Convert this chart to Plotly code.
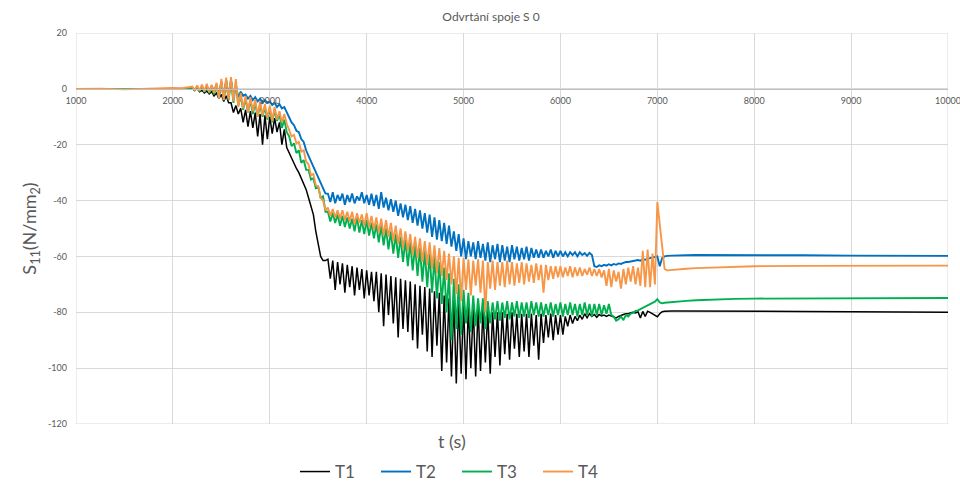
import plotly.graph_objects as go

# ---------------- data ----------------
time_s = [
    1000, 1250, 1500, 1750, 2000, 2100,
    2200, 2225, 2250, 2275, 2300, 2325, 2350, 2375,
    2400, 2425, 2450, 2475, 2500, 2525, 2550, 2575,
    2600, 2625, 2650, 2675, 2700, 2725, 2750, 2775,
    2800, 2825, 2850, 2875, 2900, 2925, 2950, 2975,
    3000, 3025, 3050, 3075, 3100, 3125, 3150, 3175,
    3200, 3225, 3250, 3275, 3300, 3325, 3350, 3375,
    3400, 3425, 3450, 3475, 3500, 3525, 3550, 3575,
    3600, 3625, 3650, 3675, 3700, 3725, 3750, 3775,
    3800, 3825, 3850, 3875, 3900, 3925, 3950, 3975,
    4000, 4025, 4050, 4075, 4100, 4125, 4150, 4175,
    4200, 4225, 4250, 4275, 4300, 4325, 4350, 4375,
    4400, 4425, 4450, 4475, 4500, 4525, 4550, 4575,
    4600, 4625, 4650, 4675, 4700, 4725, 4750, 4775,
    4800, 4825, 4850, 4875, 4900, 4925, 4950, 4975,
    5000, 5025, 5050, 5075, 5100, 5125, 5150, 5175,
    5200, 5225, 5250, 5275, 5300, 5325, 5350, 5375,
    5400, 5425, 5450, 5475, 5500, 5525, 5550, 5575,
    5600, 5625, 5650, 5675, 5700, 5725, 5750, 5775,
    5800, 5825, 5850, 5875, 5900, 5925, 5950, 5975,
    6000, 6025, 6050, 6075, 6100, 6125, 6150, 6175,
    6200, 6225, 6250, 6275, 6300, 6325, 6350, 6375,
    6400, 6425, 6450, 6475, 6500, 6525, 6550, 6575,
    6600, 6625, 6650, 6675, 6700, 6725, 6750, 6775,
    6800, 6825, 6850, 6875, 6900, 6925, 6950, 6975,
    7000, 7025, 7050, 7075, 7100,
    7150, 7200, 7300, 7400, 7600, 7800, 8000, 8500, 9000, 9500, 10000,
]

t1_values = [
    0, 0, 0, 0, 0, 0,
    0, -0.5, 0.2, -1.0, -0.5, -1.5, -0.8, -1.8,
    -1.0, -2.5, -1.5, -3.5, -2.0, -4.5, -2.5, -5.0,
    -5.0, -8.5, -6.0, -9.0, -7.0, -12.0, -7.5, -13.5,
    -8.0, -14.0, -8.5, -17.0, -9.0, -20.0, -9.5, -18.0,
    -10.0, -16.0, -10.5, -15.5, -12.0, -20.0, -14.5, -21.0,
    -23.0, -25.0, -26.5, -28.5, -30.0, -32.0, -34.0, -36.0,
    -39.0, -42.5, -45.0, -51.0, -56.0, -60.0, -61.5, -61.5,
    -61.0, -68.0, -61.5, -72.0, -62.0, -70.0, -62.5, -73.0,
    -63.0, -71.0, -63.5, -74.0, -64.0, -72.0, -64.5, -75.0,
    -65.0, -74.0, -65.5, -76.0, -65.5, -80.0, -66.0, -85.0,
    -66.5, -81.0, -67.0, -84.0, -67.5, -89.0, -68.0, -86.0,
    -68.5, -87.0, -69.0, -90.0, -70.0, -93.0, -70.5, -88.0,
    -71.0, -94.0, -71.5, -96.0, -72.5, -92.0, -73.0, -101.0,
    -74.0, -98.0, -75.0, -103.0, -76.0, -105.5, -76.5, -102.0,
    -77.0, -104.0, -77.5, -100.0, -78.0, -103.0, -78.0, -101.0,
    -79.0, -98.0, -79.5, -102.0, -80.0, -96.0, -80.0, -99.0,
    -80.0, -95.0, -80.5, -97.0, -80.0, -93.0, -80.5, -96.0,
    -80.5, -94.0, -80.5, -96.0, -80.5, -92.0, -81.0, -97.0,
    -80.5, -91.0, -81.0, -89.0, -80.5, -90.0, -81.0, -88.0,
    -81.0, -88.0, -81.5, -85.0, -81.0, -84.0, -81.5, -83.0,
    -81.0, -82.5, -80.5, -82.0, -80.5, -81.5, -80.8, -81.8,
    -80.8, -81.3, -81.0, -81.5, -81.0, -81.3, -81.5, -82.0,
    -81.5, -81.0, -80.8, -80.5, -80.5, -80.2, -80.0, -80.2,
    -79.8, -82.0, -79.7, -81.5, -79.6, -80.0, -80.5, -81.0,
    -81.6, -80.5, -79.8, -79.6, -79.5,
    -79.5, -79.5, -79.5, -79.6, -79.6, -79.6, -79.7, -79.7, -79.8, -79.9, -80.0,
]

t2_values = [
    0, 0, 0, 0, 0, 0,
    0.3, -0.3, 0.5, -0.5, 0.8, -0.6, 1.0, -0.8,
    1.0, -1.0, 1.5, -2.5, 2.5, -3.0, 3.0, -2.5,
    3.0, -2.5, 1.0, -3.0, -1.0, -2.5, -2.0, -3.5,
    -2.5, -4.0, -3.0, -4.5, -3.5, -5.0, -4.0, -5.0,
    -4.5, -5.8, -5.0, -6.5, -5.5, -7.0, -6.5, -8.5,
    -10.5, -12.0, -13.0, -15.0, -15.5, -18.0, -19.0, -22.0,
    -24.0, -26.0, -27.5, -29.5, -31.5, -34.0, -36.0, -37.5,
    -37.5, -40.5, -37.0, -41.0, -38.0, -40.0, -37.5, -41.5,
    -38.0, -40.5, -37.5, -41.0, -38.5, -40.0, -37.0, -41.0,
    -38.0, -41.5, -37.5, -42.0, -38.0, -43.0, -37.0, -42.5,
    -39.0, -43.5, -39.5, -44.0, -40.0, -45.5, -41.0, -46.0,
    -41.5, -47.0, -42.0, -48.0, -43.0, -49.0, -43.5, -50.0,
    -44.5, -51.5, -45.0, -53.0, -46.0, -54.0, -47.0, -54.5,
    -48.0, -55.5, -49.0, -56.5, -51.0, -58.0, -52.0, -60.0,
    -53.5, -61.0, -54.5, -60.0, -55.0, -61.0, -54.5, -60.5,
    -55.5, -61.5, -55.0, -62.0, -56.0, -61.0, -55.5, -62.0,
    -56.0, -61.5, -56.5, -62.0, -56.0, -61.0, -56.5, -61.5,
    -57.0, -61.0, -56.5, -61.5, -57.0, -60.5, -57.5, -60.5,
    -57.5, -60.5, -58.0, -60.0, -57.5, -60.5, -58.0, -60.0,
    -58.0, -60.0, -58.5, -60.0, -58.5, -59.5, -58.5, -60.0,
    -58.5, -59.5, -58.8, -59.8, -58.7, -59.5, -63.5, -63.8,
    -63.2, -63.5, -63.0, -63.3, -62.8, -63.2, -62.7, -63.0,
    -62.5, -62.7, -62.3, -62.0, -62.0, -61.8, -61.6, -61.5,
    -61.3, -61.5, -61.0, -61.2, -60.8, -60.6, -60.4, -60.2,
    -60.0, -63.5, -60.5, -60.0, -59.8,
    -59.7, -59.6, -59.6, -59.5, -59.5, -59.4, -59.5, -59.6, -59.7, -59.8, -59.8,
]

t3_values = [
    0, 0, 0, 0, 0, 0,
    0.3, -0.5, 0.6, -0.8, 0.8, -1.2, 0.8, -1.5,
    0.5, -2.0, 1.5, -3.5, 2.5, -4.0, 3.0, -4.0,
    3.0, -5.0, 2.0, -6.0, -2.5, -7.5, -3.5, -8.5,
    -4.0, -9.0, -5.0, -10.0, -5.5, -10.0, -6.5, -11.0,
    -7.0, -12.0, -7.5, -11.5, -9.0, -14.0, -11.0, -15.5,
    -17.0, -20.5, -19.5, -23.0, -22.0, -26.5, -25.5, -29.0,
    -29.0, -32.5, -32.0, -35.5, -35.0, -39.0, -38.5, -44.0,
    -44.0, -47.5, -44.5, -48.0, -45.0, -49.0, -45.5, -49.5,
    -46.0, -50.0, -46.5, -51.0, -46.0, -51.5, -47.0, -52.0,
    -47.0, -52.5, -48.0, -53.5, -48.5, -55.0, -49.0, -56.0,
    -50.0, -57.5, -51.0, -59.0, -52.0, -60.5, -53.0, -62.0,
    -54.0, -63.5, -55.0, -65.0, -56.0, -67.0, -57.0, -69.0,
    -58.0, -71.0, -59.0, -73.0, -60.0, -75.0, -62.0, -77.0,
    -64.0, -80.0, -66.0, -90.0, -68.0, -86.0, -70.0, -88.0,
    -72.0, -84.0, -73.0, -87.0, -74.0, -85.0, -75.0, -84.0,
    -75.0, -86.0, -76.0, -84.0, -76.5, -82.5, -76.0, -83.0,
    -76.5, -82.0, -76.0, -82.5, -76.5, -81.5, -76.0, -82.0,
    -76.5, -81.5, -76.5, -82.0, -76.0, -81.0, -76.5, -81.5,
    -76.5, -81.5, -77.0, -81.0, -76.5, -81.5, -77.0, -81.0,
    -76.5, -81.5, -77.0, -81.0, -76.5, -81.0, -77.0, -81.5,
    -77.0, -81.0, -76.5, -81.0, -77.0, -81.5, -77.0, -81.0,
    -77.0, -81.0, -77.5, -80.5, -77.0, -81.0, -81.5, -83.0,
    -82.5, -81.5, -82.8, -81.0, -81.5, -80.5, -80.2, -79.5,
    -79.3, -78.8, -78.3, -77.8, -77.5, -77.0, -76.6, -76.2,
    -75.3, -76.5, -76.8, -76.6, -76.5,
    -76.3, -76.1, -75.9, -75.7, -75.4, -75.2, -75.1, -75.0, -74.9, -74.9, -74.9,
]

t4_values = [
    0, 0.1, -0.2, 0.1, 0.3, 0.2,
    0.8, -0.4, 1.2, -0.6, 1.5, -1.0, 1.8, -1.2,
    1.5, -1.5, 2.2, -3.5, 3.6, -4.0, 4.0, -3.8,
    4.2, -4.5, 3.5, -6.5, -1.5, -7.0, -2.5, -8.5,
    -3.0, -8.0, -3.8, -10.0, -4.5, -9.5, -5.5, -10.5,
    -6.0, -11.5, -6.5, -11.0, -8.0, -12.0, -9.0, -12.5,
    -14.5, -17.0, -16.5, -19.5, -19.0, -22.5, -22.0, -26.0,
    -27.0, -31.0, -30.5, -34.5, -35.0, -39.0, -40.0, -43.5,
    -42.5, -45.5, -43.0, -46.0, -43.5, -46.5, -43.5, -47.0,
    -44.0, -47.5, -44.0, -48.5, -44.5, -48.0, -45.0, -49.0,
    -44.5, -49.5, -45.5, -50.5, -46.0, -51.5, -46.5, -52.5,
    -47.0, -53.0, -48.0, -54.5, -49.0, -55.5, -50.0, -57.0,
    -51.0, -58.0, -52.0, -59.5, -53.0, -60.5, -53.5, -62.0,
    -54.5, -63.0, -55.0, -64.5, -56.0, -66.0, -57.0, -67.0,
    -58.0, -68.5, -59.0, -70.0, -60.0, -73.5, -60.5, -76.0,
    -60.5, -72.0, -61.0, -74.0, -61.5, -70.5, -61.0, -73.0,
    -61.5, -80.0, -62.0, -71.5, -61.5, -72.0, -62.0, -70.5,
    -62.0, -71.0, -61.5, -70.0, -62.0, -70.5, -62.5, -69.5,
    -62.0, -70.0, -62.5, -69.0, -63.0, -69.5, -62.5, -68.5,
    -63.0, -73.0, -63.0, -68.5, -63.5, -68.0, -63.5, -67.5,
    -63.5, -67.5, -64.0, -67.0, -63.5, -67.5, -64.0, -67.0,
    -64.0, -67.0, -64.5, -66.5, -64.0, -67.0, -64.5, -67.0,
    -64.5, -67.5, -65.0, -70.5, -64.5, -71.0, -65.0, -69.0,
    -65.5, -71.5, -64.5, -70.0, -64.0, -69.0, -63.5, -70.0,
    -64.0, -70.5, -58.0, -71.0, -57.5, -71.0, -59.0, -70.0,
    -40.5, -48.0, -56.0, -64.5, -65.0,
    -64.8, -64.6, -64.4, -64.2, -63.9, -63.7, -63.5, -63.4, -63.3, -63.3, -63.3,
]

series_names = ["T1", "T2", "T3", "T4"]
series_colors = ["#000000", "#0070C0", "#00B050", "#F79646"]
series_widths = [1.5, 1.9, 1.9, 1.9]

x_ticks = [1000, 2000, 3000, 4000, 5000, 6000, 7000, 8000, 9000, 10000]
x_tick_labels = ["1000", "2000", "3000", "4000", "5000", "6000", "7000", "8000", "9000", "10000"]
y_ticks = [20, 0, -20, -40, -60, -80, -100, -120]
y_tick_labels = ["20", "0", "-20", "-40", "-60", "-80", "-100", "-120"]

title_text = "Odvrtání spoje S 0"
x_title = "t (s)"
y_title = "S<sub>11</sub>(N/mm<sub>2</sub>)"

# ---------------- figure ----------------
FONT = "Lato, 'Open Sans', sans-serif"
GREY = "#595959"
GRID = "#D9D9D9"
x_min, x_max = 1000, 10000
y_min, y_max = -120, 20

fig = go.Figure()
for name, vals, color, w in zip(series_names, [t1_values, t2_values, t3_values, t4_values],
                                series_colors, series_widths):
    fig.add_trace(go.Scatter(x=time_s, y=vals, mode="lines", name=name,
                             line=dict(color=color, width=w)))

fig.update_layout(
    width=960, height=482,
    margin=dict(l=76, r=12, t=33, b=58, autoexpand=False),
    paper_bgcolor="white", plot_bgcolor="white",
    font=dict(family=FONT, color=GREY),
    title=dict(text=title_text, x=491 / 960, xanchor="center", y=1 - 17 / 482, yanchor="middle",
               font=dict(size=12, color=GREY, family=FONT)),
    xaxis=dict(range=[x_min, x_max], tickvals=x_ticks, ticktext=x_tick_labels,
               showgrid=True, gridcolor=GRID, gridwidth=1, zeroline=False,
               showline=True, linecolor="#BFBFBF", linewidth=1,
               anchor="free", position=(0 - y_min) / (y_max - y_min),
               ticks="", ticklabeloverflow="allow", ticklabelstandoff=3,
               tickfont=dict(size=9, color=GREY, family=FONT)),
    yaxis=dict(range=[y_min, y_max], tickvals=y_ticks, ticktext=y_tick_labels,
               showgrid=True, gridcolor=GRID, gridwidth=1, zeroline=False,
               showline=False, ticks="", ticklabelstandoff=8,
               tickfont=dict(size=9, color=GREY, family=FONT),
               title=dict(text=y_title, font=dict(size=18, color=GREY, family=FONT), standoff=6)),
    legend=dict(orientation="h", x=(295 - 76) / 872, xanchor="left",
                yref="container", y=1 - 472 / 482, yanchor="middle",
                font=dict(size=17, color=GREY, family=FONT), entrywidth=36,
                bgcolor="rgba(0,0,0,0)"),
    showlegend=True,
    shapes=[dict(type="rect", xref="x", yref="y", x0=x_min, x1=x_max, y0=y_min, y1=y_max,
                 line=dict(color=GRID, width=1), layer="below")],
    annotations=[dict(text=x_title, xref="paper", yref="paper", x=(452 - 76) / 872, y=-(441 - 424) / 391,
                      xanchor="center", yanchor="middle", showarrow=False,
                      font=dict(size=18, color=GREY, family=FONT))],
)

fig.write_html("out.html", config={"displayModeBar": False},
               post_script="document.body.style.margin='0';")
